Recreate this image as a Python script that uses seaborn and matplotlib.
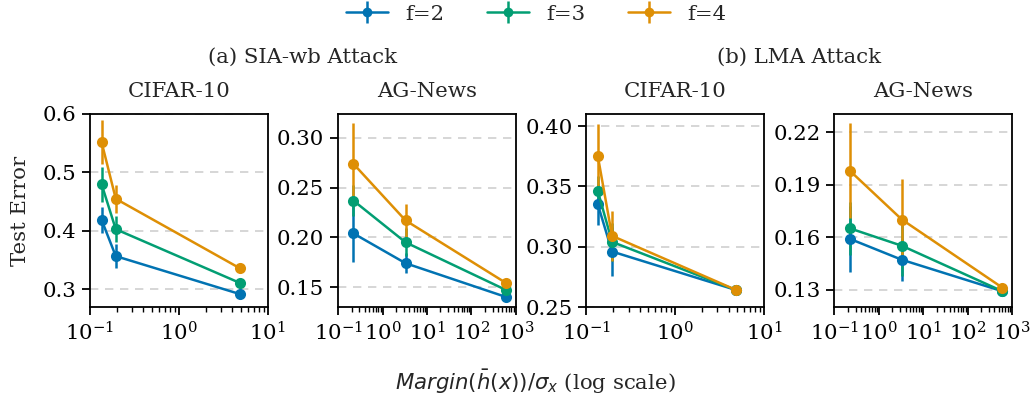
import numpy as np
import pandas as pd
import matplotlib
matplotlib.use("Agg")
import matplotlib.pyplot as plt
import seaborn as sns
from matplotlib.lines import Line2D
from matplotlib.collections import LineCollection
from matplotlib.container import ErrorbarContainer

# ---- data ----
series = ["f=2", "f=3", "f=4"]

cifar_margin = [0.135, 0.195, 4.9]
agnews_margin = [0.22, 3.3, 610.0]

# (a) SIA-wb Attack
sia_cifar_mean = {"f=2": [0.419, 0.357, 0.292], "f=3": [0.480, 0.403, 0.311], "f=4": [0.552, 0.455, 0.336]}
sia_cifar_err = {"f=2": [0.022, 0.020, 0.003], "f=3": [0.030, 0.022, 0.003], "f=4": [0.037, 0.024, 0.003]}
sia_ag_mean = {"f=2": [0.204, 0.174, 0.140], "f=3": [0.237, 0.195, 0.147], "f=4": [0.274, 0.217, 0.154]}
sia_ag_err = {"f=2": [0.029, 0.010, 0.002], "f=3": [0.016, 0.014, 0.002], "f=4": [0.041, 0.017, 0.002]}

# (b) LMA Attack
lma_cifar_mean = {"f=2": [0.335, 0.296, 0.264], "f=3": [0.346, 0.304, 0.264], "f=4": [0.375, 0.309, 0.264]}
lma_cifar_err = {"f=2": [0.017, 0.020, 0.001], "f=3": [0.013, 0.016, 0.001], "f=4": [0.027, 0.021, 0.001]}
lma_ag_mean = {"f=2": [0.159, 0.147, 0.129], "f=3": [0.165, 0.155, 0.129], "f=4": [0.198, 0.170, 0.131]}
lma_ag_err = {"f=2": [0.019, 0.012, 0.001], "f=3": [0.015, 0.017, 0.001], "f=4": [0.027, 0.023, 0.001]}

panel_titles = ["CIFAR-10", "AG-News", "CIFAR-10", "AG-News"]
group_titles = ["(a) SIA-wb Attack", "(b) LMA Attack"]
yticks = [[0.3, 0.4, 0.5, 0.6], [0.15, 0.20, 0.25, 0.30], [0.25, 0.30, 0.35, 0.40], [0.13, 0.16, 0.19, 0.22]]
ytick_fmt = ["%.1f", "%.2f", "%.2f", "%.2f"]
ylims = [(0.27, 0.60), (0.13, 0.324), (0.25, 0.41), (0.12, 0.2303)]
xlims = [(0.1, 10), (0.1, 1000), (0.1, 10), (0.1, 1000)]

FS = 15.3

# ---- style ----
sns.set_theme(style="ticks", palette="colorblind")
plt.rcParams["font.family"] = ["DejaVu Serif"]
plt.rcParams["mathtext.fontset"] = "dejavusans"
plt.rcParams["font.size"] = FS
plt.rcParams["xtick.labelsize"] = FS
plt.rcParams["ytick.labelsize"] = FS
plt.rcParams["axes.edgecolor"] = "black"
plt.rcParams["xtick.color"] = "black"
plt.rcParams["ytick.color"] = "black"
plt.rcParams["axes.linewidth"] = 1.3
plt.rcParams["xtick.major.width"] = 1.3
plt.rcParams["ytick.major.width"] = 1.3
plt.rcParams["xtick.minor.width"] = 1.0
plt.rcParams["xtick.minor.visible"] = True

colors = sns.color_palette("colorblind")
pal = {"f=2": colors[0], "f=3": colors[2], "f=4": colors[1]}

fig, axes = plt.subplots(1, 4, figsize=(10.31, 3.98), dpi=100)
fig.subplots_adjust(left=0.0873, right=0.9816, top=0.7136, bottom=0.2286, wspace=0.397)

panels = [
    (cifar_margin, sia_cifar_mean, sia_cifar_err),
    (agnews_margin, sia_ag_mean, sia_ag_err),
    (cifar_margin, lma_cifar_mean, lma_cifar_err),
    (agnews_margin, lma_ag_mean, lma_ag_err),
]

for i, (ax, (xs, means, errs)) in enumerate(zip(axes, panels)):
    rows = []
    for s in series:
        for x, m, e in zip(xs, means[s], errs[s]):
            rows.append({"margin": x, "err": m, "sd": e, "f": s})
    df = pd.DataFrame(rows)
    for s in series:
        d = df[df["f"] == s]
        ax.errorbar(d["margin"], d["err"], yerr=d["sd"], fmt="none",
                    ecolor=pal[s], elinewidth=1.8, capsize=0, zorder=2)
        sns.lineplot(data=d, x="margin", y="err", color=pal[s], marker="o",
                     markersize=8, markeredgewidth=0, linewidth=1.8,
                     ax=ax, legend=False, zorder=3)
    ax.set_xscale("log")
    ax.set_xlim(*xlims[i])
    ax.set_ylim(*ylims[i])
    ax.set_yticks(yticks[i])
    ax.yaxis.set_major_formatter(matplotlib.ticker.FormatStrFormatter(ytick_fmt[i]))
    ax.xaxis.set_major_locator(matplotlib.ticker.LogLocator(base=10, numticks=10))
    ax.xaxis.set_minor_locator(matplotlib.ticker.LogLocator(base=10, subs=np.arange(2, 10), numticks=20))
    ax.xaxis.set_minor_formatter(matplotlib.ticker.NullFormatter())
    ax.grid(axis="y", linestyle=(0, (5, 4)), color="#d0d0d0", linewidth=1.2)
    ax.set_axisbelow(True)
    ax.set_title(panel_titles[i], pad=12, fontsize=FS)
    ax.set_xlabel("")
    ax.set_ylabel("")
    ax.tick_params(axis="both", which="major", length=6, pad=4)
    ax.tick_params(axis="x", which="minor", length=3.5)
    ax.tick_params(axis="y", which="minor", left=False)

axes[0].set_ylabel("Test Error", fontsize=FS, labelpad=9)

# group titles
for k, t in enumerate(group_titles):
    a0, a1 = axes[2 * k], axes[2 * k + 1]
    xc = (a0.get_position().x0 + a1.get_position().x1) / 2
    fig.text(xc, 1 - 57 / 398, t, ha="center", va="center", fontsize=FS)

fig.text(0.519, 1 - 382 / 398, r"$Margin(\bar{h}(x))/\sigma_x$ (log scale)",
         ha="center", va="center", fontsize=FS)

# legend with errorbar-style handles
handles = []
for s in series:
    ln = Line2D([], [], color=pal[s], marker="o", markersize=7, linewidth=1.8, markeredgewidth=0)
    lc = LineCollection([], colors=[pal[s]], linewidths=1.8)
    handles.append(ErrorbarContainer((ln, (), (lc,)), has_xerr=False, has_yerr=True, label=s))
fig.legend(handles, series, loc="center", bbox_to_anchor=(0.52, 1 - 14 / 398),
           ncol=3, frameon=False, fontsize=FS, columnspacing=2.0, handlelength=2.0)

fig.savefig("out.png", dpi=100)
